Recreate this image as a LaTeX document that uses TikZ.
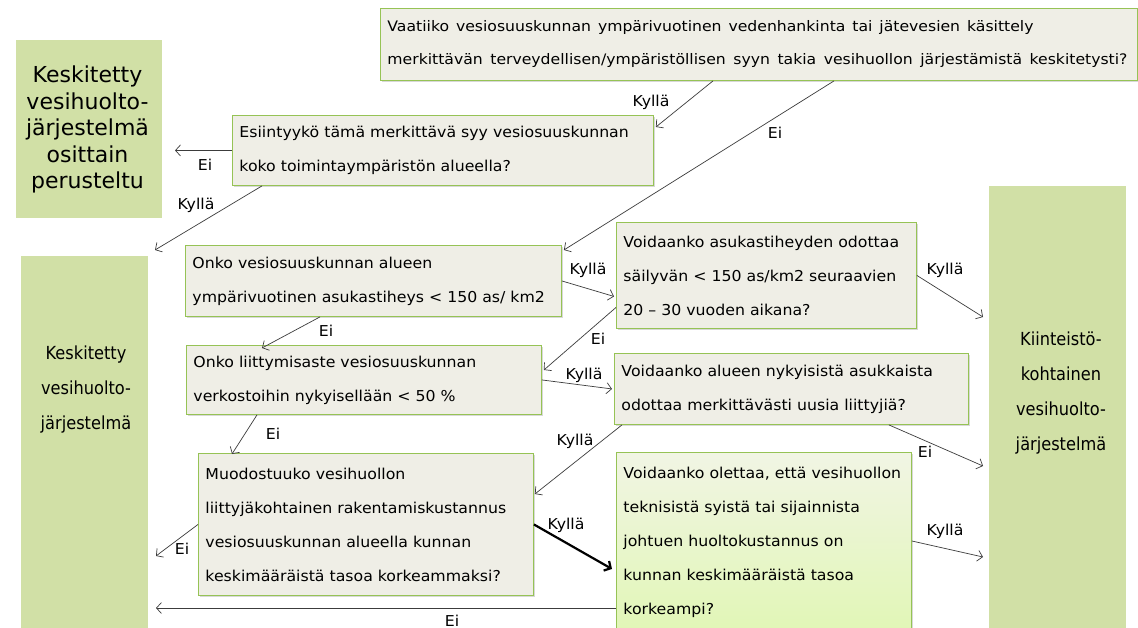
\documentclass[tikz,border=0pt]{standalone}
\usepackage{fontspec}
\setmainfont{DejaVu Sans}
\newfontfamily\qfont{DejaVu Sans}[FakeStretch=1.05,WordSpace=1.9]
\newfontfamily\topfont{DejaVu Sans}[FakeStretch=1.08]
\newfontfamily\bigfont{DejaVu Sans}
\newfontfamily\narrowfont{DejaVu Sans}[FakeStretch=0.9]
\usetikzlibrary{arrows.meta,shadows,calc}

% a line of text spread to a given width by widening its word spaces
\newcommand\spreadline[2]{\hbox to #1pt{\spaceskip=0.3em plus 1fil\relax #2}}

\definecolor{qfill}{RGB}{239,238,230}
\definecolor{qborder}{RGB}{150,195,85}
\definecolor{gfill}{RGB}{209,224,166}
\definecolor{gtop}{RGB}{241,245,228}
\definecolor{gbottom}{RGB}{225,246,182}
\definecolor{linecol}{RGB}{60,60,60}

\begin{document}
\begin{tikzpicture}[x=1pt,y=-1pt,
  qbox/.style={draw=qborder, line width=0.9pt, fill=qfill, anchor=north west,
    align=left, inner xsep=7pt, inner ysep=0pt,
    font=\qfont\fontsize{15}{34}\selectfont,
    drop shadow={shadow xshift=1.5pt, shadow yshift=-2pt, opacity=0.3}},
  gbox/.style={draw=white, line width=3pt, fill=gfill, anchor=north west,
    inner sep=0pt,
    drop shadow={shadow xshift=0.6pt, shadow yshift=-1.2pt, opacity=0.25}},
  bigtext/.style={align=center, inner sep=0pt,
    font=\bigfont\fontsize{22}{26.5}\selectfont},
  tall/.style={align=center, inner sep=0pt,
    font=\narrowfont\fontsize{18}{35}\selectfont},
  lbl/.style={inner sep=0pt, font=\qfont\fontsize{15}{17}\selectfont},
  arr/.style={draw=linecol, line width=0.7pt,
    -{Straight Barb[length=5pt,width=11pt]}},
  bold arr/.style={draw=black, line width=2.2pt,
    -{Straight Barb[length=5pt,width=11pt]}}]

\useasboundingbox (0,0) rectangle (1138,628);
\fill[white] (0,0) rectangle (1138,628);

% ---- end states ----
\node[gbox, minimum width=149pt, minimum height=181pt] (kesk1) at (13,37) {};
\node[bigtext] (kesk1txt) at (87.5,129.5)
  {Keskitetty\\vesihuolto-\\järjestelmä\\osittain\\perusteltu};

\node[gbox, minimum width=130pt, minimum height=400pt] (kesk2) at (18,253) {};
\node[tall] (kesk2txt) at (86,390) {Keskitetty\\vesihuolto-\\järjestelmä};

\node[gbox, minimum width=140pt, minimum height=470pt] (kiint) at (986,183) {};
\node[tall] (kiinttxt) at (1061,393)
  {Kiinteistö-\\kohtainen\\vesihuolto-\\järjestelmä};

% ---- questions ----
\node[qbox, minimum width=757pt, text width=743pt, minimum height=72pt,
  font=\topfont\fontsize{14.5}{33}\selectfont] (top) at (380,8)
  {\spreadline{646}{Vaatiiko vesiosuuskunnan ympärivuotinen vedenhankinta tai jätevesien käsittely}\\
   \spreadline{740}{merkittävän terveydellisen/ympäristöllisen syyn takia vesihuollon järjestämistä keskitetysti?}};

\node[qbox, minimum width=421pt, text width=407pt, minimum height=70pt] (esi) at (232,115)
  {Esiintyykö tämä merkittävä syy vesiosuuskunnan\\koko toimintaympäristön alueella?};

\node[qbox, minimum width=376pt, text width=362pt, minimum height=71pt] (onko1) at (185,245)
  {Onko vesiosuuskunnan alueen\\ympärivuotinen asukastiheys < 150 as/ km2};

\node[qbox, minimum width=300pt, text width=286pt, minimum height=106pt] (voi1) at (616,222)
  {Voidaanko asukastiheyden odottaa\\säilyvän < 150 as/km2 seuraavien\\20 – 30 vuoden aikana?};

\node[qbox, minimum width=355pt, text width=341pt, minimum height=69pt] (onko2) at (186,345)
  {Onko liittymisaste vesiosuuskunnan\\verkostoihin nykyisellään < 50 \%};

\node[qbox, minimum width=354pt, text width=340pt, minimum height=71pt] (voi2) at (614,353)
  {Voidaanko alueen nykyisistä asukkaista\\odottaa merkittävästi uusia liittyjiä?};

\node[qbox, minimum width=335pt, text width=321pt, minimum height=142pt] (muod) at (198,453)
  {Muodostuuko vesihuollon\\liittyjäkohtainen rakentamiskustannus\\vesiosuuskunnan alueella kunnan\\keskimääräistä tasoa korkeammaksi?};

\node[qbox, top color=gtop, bottom color=gbottom, minimum width=295pt, text width=281pt,
  minimum height=180pt] (voi3) at (616,452)
  {Voidaanko olettaa, että vesihuollon\\teknisistä syistä tai sijainnista\\johtuen huoltokustannus on\\kunnan keskimääräistä tasoa\\korkeampi?};

% ---- connectors ----
\draw[arr] ([xshift=333pt]top.south west) -- ([xshift=2pt,yshift=-12pt]esi.north east);
\draw[arr] ([xshift=454pt]top.south west) -- ([xshift=2pt,yshift=-5pt]onko1.north east);
\draw[arr] (esi.west) -- ($(kesk1.east |- esi.west)+(10,0)$);
\draw[arr] ([xshift=30pt]esi.south west) -- ([xshift=4pt,yshift=3pt]kesk2.north east);
\draw[arr] (onko1.east) -- ([xshift=-2pt,yshift=-21pt]voi1.west);
\draw[arr] ([yshift=-32pt]voi1.west) -- ([xshift=2pt,yshift=-25pt]onko2.north east);
\draw[arr] ([xshift=135pt]onko1.south west) -- ([xshift=76pt,yshift=-3pt]onko2.north west);
\draw[arr] (onko2.east) -- ([xshift=-2pt]voi2.west);
\draw[arr] ([xshift=71pt]onko2.south west) -- ([xshift=34pt,yshift=-1pt]muod.north west);
\draw[arr] ([xshift=8pt]voi2.south west) -- ([xshift=1pt,yshift=-41pt]muod.north east);
\draw[arr] ([xshift=-80pt]voi2.south east) -- ([xshift=-3pt,yshift=-283pt]kiint.north west);
\draw[arr] (voi1.east) -- ([xshift=-3pt,yshift=-134pt]kiint.north west);
\draw[arr] (muod.west) -- ([xshift=5pt,yshift=-303pt]kesk2.north east);
\draw[bold arr] (muod.east) -- ([xshift=-4pt,yshift=-117pt]voi3.north west);
\draw[arr] ([yshift=-89pt]voi3.north east) -- ([xshift=-3pt,yshift=-374pt]kiint.north west);
\draw[arr] ([yshift=-156pt]voi3.north west) -- ($(kesk2.east |- voi3.north west)+(5,156)$);

% ---- answers ----
\node[lbl] (a1) at (651,102) {Kyllä};
\node[lbl] (a2) at (775,133) {Ei};
\node[lbl] (a3) at (205,165) {Ei};
\node[lbl] (a4) at (196,205) {Kyllä};
\node[lbl] (a5) at (588,270) {Kyllä};
\node[lbl] (a6) at (598,339) {Ei};
\node[lbl] (a7) at (326,331) {Ei};
\node[lbl] (a8) at (584,375) {Kyllä};
\node[lbl] (a9) at (273,434) {Ei};
\node[lbl] (a10) at (575,441) {Kyllä};
\node[lbl] (a11) at (925,452) {Ei};
\node[lbl] (a12) at (945,270) {Kyllä};
\node[lbl] (a13) at (182,549) {Ei};
\node[lbl] (a14) at (566,525) {Kyllä};
\node[lbl] (a15) at (945,531) {Kyllä};
\node[lbl] (a16) at (452,621) {Ei};
\end{tikzpicture}
\end{document}
